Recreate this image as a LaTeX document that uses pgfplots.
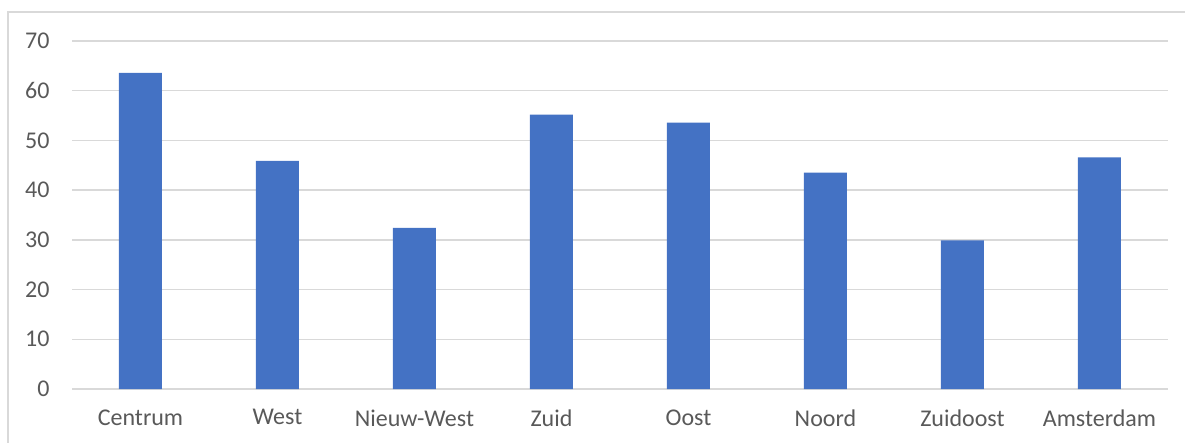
\documentclass[border=0pt]{standalone}
\usepackage{pgfplots}
\pgfplotsset{compat=1.18}
\usepackage{fontspec}
\setmainfont{Carlito}
\definecolor{barblue}{HTML}{4472C4}
\definecolor{gridgray}{HTML}{D9D9D9}
\definecolor{labelgray}{HTML}{595959}
\begin{document}
\begin{tikzpicture}[x=1pt,y=1pt]
\useasboundingbox (0,0) rectangle (1185,442);
\draw[gridgray, line width=1.5pt] (8,-5) -- (8,430) -- (1190,430);
\begin{axis}[
  at={(72pt,53pt)}, anchor=south west,
  scale only axis, width=1096pt, height=348pt,
  xmin=-0.5, xmax=7.5, ymin=0, ymax=70,
  ytick distance=10,
  xtick=data,
  xticklabels={Centrum,West,Nieuw-West,Zuid,Oost,Noord,Zuidoost,Amsterdam},
  ybar, bar width=43pt,
  axis line style={draw=none},
  axis x line*=bottom,
  x axis line style={draw=gridgray, line width=1.4pt},
  major tick length=0pt,
  ymajorgrids, grid style={gridgray, line width=1.4pt},
  tick label style={font=\fontsize{24}{28}\selectfont, text=labelgray},
  yticklabel style={xshift=-19pt},
  xticklabel style={yshift=-17pt},
  /pgf/number format/assume math mode=true,
]
\addplot[fill=barblue, draw=none] coordinates {
  (0,63.6) (1,45.9) (2,32.4) (3,55.2) (4,53.6) (5,43.5) (6,29.9) (7,46.6)
};
\end{axis}
\end{tikzpicture}
\end{document}
